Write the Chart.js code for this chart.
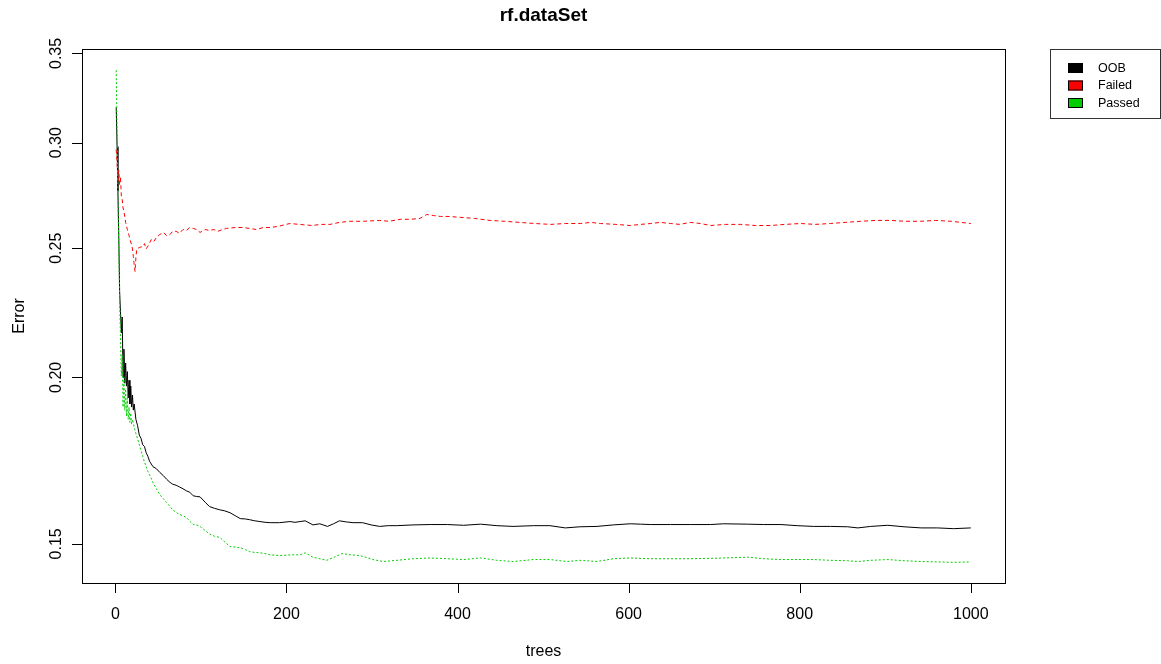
<!DOCTYPE html>
<html>
<head>
<meta charset="utf-8">
<title>rf.dataSet</title>
<script src="https://cdn.jsdelivr.net/npm/chart.js@4.4.0/dist/chart.umd.min.js"></script>
<style>
  html, body { margin: 0; padding: 0; background: #fff; }
  canvas { display: block; }
</style>
</head>
<body>
<canvas id="rfChart" width="1161" height="664"></canvas>
<script>
/* values (log y axis) */
const oobTrees = [1,2,3,4,5,6,7,8,9,10,11,12,13,14,15,16,17,18,19,20,21,22,24,26,28,30,32,34,36,38,40,44,48,52,56,60,64,67,71,75,79,83,87,91,95,99,105,110,116,122,128,134,140,146,152,157,163,169,175,181,192,204,210,216,222,231,239,248,255,262,270,278,289,299,309,319,329,348,368,388,407,427,446,465,489,508,526,543,563,582,602,614,626,649,672,696,711,739,758,778,797,816,836,856,868,883,903,922,942,961,980,1000];
const oobError = [0.319,0.298,0.276,0.255,0.232,0.224,0.216,0.222,0.200,0.210,0.198,0.205,0.197,0.202,0.193,0.199,0.191,0.197,0.190,0.194,0.189,0.191,0.186,0.184,0.181,0.180,0.178,0.1775,0.1756,0.1745,0.1730,0.1714,0.1708,0.1697,0.1688,0.1677,0.1668,0.1663,0.1660,0.1655,0.1650,0.1644,0.1640,0.1630,0.1628,0.1627,0.1612,0.1600,0.1595,0.1591,0.1588,0.1583,0.1575,0.1567,0.1566,0.1564,0.1561,0.1559,0.1557,0.1556,0.1556,0.1559,0.1557,0.1559,0.1561,0.1550,0.1553,0.1546,0.1553,0.1561,0.1558,0.1556,0.1556,0.1550,0.1546,0.1548,0.1548,0.1550,0.1551,0.1551,0.1549,0.1552,0.1548,0.1546,0.1548,0.1548,0.1542,0.1545,0.1546,0.1550,0.1553,0.1552,0.1551,0.1551,0.1551,0.1551,0.1553,0.1552,0.1551,0.1551,0.1548,0.1546,0.1546,0.1545,0.1542,0.1546,0.1549,0.1545,0.1542,0.1542,0.1540,0.1542];

const failedTrees = [1,2,3,4,5,6,7,8,9,10,11,12,14,16,17,19,20,21,22,23,24,25,28,32,34,36,39,42,45,48,52,56,60,64,67,71,75,79,83,87,91,95,99,105,110,115,120,125,130,140,149,157,165,173,181,190,204,215,230,240,251,262,274,290,309,320,333,345,356,364,372,380,390,403,420,438,455,473,490,509,526,544,556,567,585,602,614,626,637,649,660,672,684,696,713,731,748,766,783,801,818,836,853,871,889,906,924,941,959,977,1000];
const failedError = [0.2965,0.290,0.280,0.286,0.279,0.283,0.2734,0.272,0.268,0.2664,0.264,0.2614,0.2582,0.2555,0.2538,0.2515,0.2497,0.2465,0.2431,0.2401,0.2460,0.2497,0.2503,0.2508,0.2520,0.2497,0.2515,0.2538,0.2529,0.2547,0.2560,0.2569,0.2555,0.2560,0.2574,0.2574,0.2565,0.2582,0.2578,0.2591,0.2587,0.2582,0.2569,0.2582,0.2578,0.2582,0.2574,0.2582,0.2587,0.2591,0.2591,0.2587,0.2582,0.2591,0.2591,0.2596,0.2609,0.2605,0.2600,0.2605,0.2605,0.2614,0.2619,0.2619,0.2623,0.2619,0.2628,0.2628,0.2632,0.2650,0.2645,0.2641,0.2641,0.2637,0.2632,0.2623,0.2619,0.2614,0.2609,0.2605,0.2609,0.2609,0.2614,0.2609,0.2605,0.2600,0.2605,0.2609,0.2614,0.2609,0.2605,0.2614,0.2609,0.2600,0.2605,0.2605,0.2600,0.2600,0.2605,0.2609,0.2605,0.2609,0.2614,0.2619,0.2623,0.2623,0.2619,0.2619,0.2623,0.2619,0.2609];

const passedTrees = [1,2,3,4,5,6,7,8,9,10,11,12,13,14,15,16,17,18,19,20,22,24,26,28,30,32,34,36,38,41,44,48,52,56,60,64,67,71,75,79,83,87,91,95,99,105,110,116,122,128,134,140,146,152,157,163,169,175,181,192,207,216,222,231,239,247,256,265,275,286,294,301,313,329,348,368,388,407,427,446,465,489,508,528,543,563,582,602,626,649,672,696,711,739,758,778,797,816,836,856,868,883,903,922,942,961,980,1000];
const passedError = [0.340,0.305,0.272,0.250,0.228,0.214,0.2005,0.208,0.190,0.200,0.189,0.196,0.187,0.193,0.186,0.190,0.185,0.188,0.1845,0.186,0.1835,0.1815,0.1799,0.1780,0.1762,0.1745,0.1728,0.1715,0.1700,0.1685,0.1667,0.1650,0.1633,0.1622,0.1611,0.1600,0.1591,0.1584,0.1578,0.1575,0.1570,0.1560,0.1551,0.1550,0.1546,0.1535,0.1526,0.1520,0.1517,0.1505,0.1493,0.1492,0.1490,0.1485,0.1480,0.1478,0.1477,0.1475,0.1472,0.1470,0.1472,0.1472,0.1477,0.1466,0.1462,0.1458,0.1466,0.1475,0.1472,0.1470,0.1465,0.1460,0.1455,0.1458,0.1462,0.1464,0.1462,0.1460,0.1464,0.1458,0.1455,0.1460,0.1460,0.1455,0.1458,0.1455,0.1462,0.1464,0.1462,0.1462,0.1462,0.1463,0.1464,0.1466,0.1462,0.1460,0.1460,0.1460,0.1458,0.1457,0.1455,0.1458,0.1460,0.1457,0.1455,0.1454,0.1453,0.1454];

const seriesNames = ["OOB", "Failed", "Passed"];
const seriesColors = ["#000000", "#FF0000", "#00CD00"];
const xTicks = [0, 200, 400, 600, 800, 1000];
const yTicks = [0.15, 0.20, 0.25, 0.30, 0.35];
const yTickLabels = ["0.15", "0.20", "0.25", "0.30", "0.35"];

function toPoints(xs, ys) {
  return xs.map((t, i) => ({ x: t, y: ys[i] }));
}

const FONT = "'Liberation Sans', Arial, sans-serif";

// R style box, axes, labels, title and legend
const rFrame = {
  id: "rFrame",
  afterDraw(chart) {
    const { ctx, chartArea: a, scales: { x, y } } = chart;
    ctx.save();
    ctx.strokeStyle = "#000";
    ctx.lineWidth = 1;
    ctx.strokeRect(a.left + 0.5, a.top + 0.5, a.right - a.left, a.bottom - a.top);

    // tick marks
    ctx.beginPath();
    xTicks.forEach(v => {
      const px = Math.round(x.getPixelForValue(v)) + 0.5;
      ctx.moveTo(px, a.bottom);
      ctx.lineTo(px, a.bottom + 10);
    });
    yTicks.forEach(v => {
      const py = Math.round(y.getPixelForValue(v)) + 0.5;
      ctx.moveTo(a.left, py);
      ctx.lineTo(a.left - 10, py);
    });
    ctx.stroke();

    ctx.fillStyle = "#000";
    ctx.font = "16px " + FONT;
    ctx.textAlign = "center";
    ctx.textBaseline = "alphabetic";
    xTicks.forEach(v => ctx.fillText(String(v), x.getPixelForValue(v), 619));
    yTicks.forEach((v, i) => {
      ctx.save();
      ctx.translate(61, y.getPixelForValue(v));
      ctx.rotate(-Math.PI / 2);
      ctx.fillText(yTickLabels[i], 0, 0);
      ctx.restore();
    });

    // axis titles
    ctx.fillText("trees", (a.left + a.right) / 2, 656);
    ctx.save();
    ctx.translate(23.5, (a.top + a.bottom) / 2);
    ctx.rotate(-Math.PI / 2);
    ctx.fillText("Error", 0, 0);
    ctx.restore();

    // main title
    ctx.font = "bold 19px " + FONT;
    ctx.fillText("rf.dataSet", (a.left + a.right) / 2, 21);

    // legend
    ctx.strokeStyle = "#333";
    ctx.strokeRect(1050.5, 49.5, 110, 69);
    ctx.font = "12.5px " + FONT;
    ctx.textAlign = "left";
    ctx.textBaseline = "middle";
    seriesNames.forEach((name, i) => {
      const top = 63 + i * 17.5;
      ctx.fillStyle = seriesColors[i];
      ctx.fillRect(1068, top, 15, 10);
      ctx.strokeStyle = "#000";
      ctx.strokeRect(1068.5, top + 0.5, 14, 9);
      ctx.fillStyle = "#000";
      ctx.fillText(name, 1098, top + 5.5);
    });
    ctx.restore();
  }
};

new Chart(document.getElementById("rfChart").getContext("2d"), {
  type: "line",
  data: {
    datasets: [
      { label: seriesNames[0], data: toPoints(oobTrees, oobError), borderColor: seriesColors[0], borderWidth: 1, pointRadius: 0, tension: 0, order: 3 },
      { label: seriesNames[1], data: toPoints(failedTrees, failedError), borderColor: seriesColors[1], borderWidth: 1, borderDash: [4, 3], pointRadius: 0, tension: 0, order: 2 },
      { label: seriesNames[2], data: toPoints(passedTrees, passedError), borderColor: seriesColors[2], borderWidth: 1, borderDash: [2, 2], pointRadius: 0, tension: 0, order: 1 }
    ]
  },
  options: {
    responsive: false,
    animation: false,
    devicePixelRatio: 1,
    layout: { padding: { left: 82, right: 156, top: 49, bottom: 81 } },
    scales: {
      x: { type: "linear", min: -39, max: 1040, display: false },
      y: { type: "logarithmic", min: 0.1402, max: 0.3527, display: false }
    },
    plugins: {
      legend: { display: false },
      tooltip: { enabled: false },
      title: { display: false }
    }
  },
  plugins: [rFrame]
});
</script>
</body>
</html>
